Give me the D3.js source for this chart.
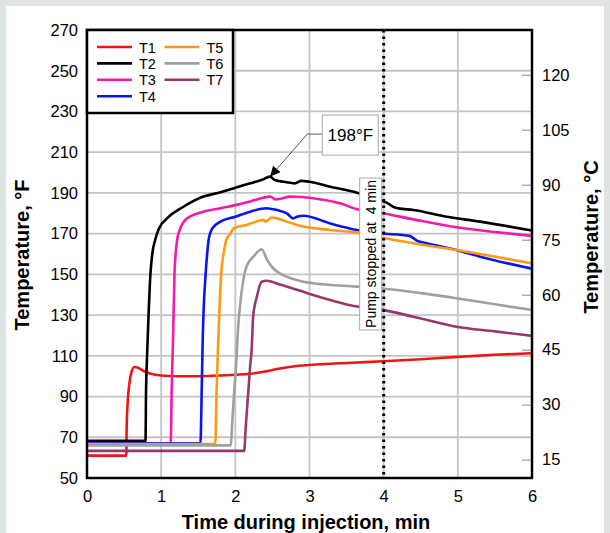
<!DOCTYPE html>
<html><head><meta charset="utf-8">
<script src="https://cdn.jsdelivr.net/npm/d3@7"></script>
<style>
body{margin:0;background:#dde4e2;}
svg{display:block;font-family:"Liberation Sans",Arial,sans-serif;}
</style></head><body>
<svg id="c" width="610" height="533"></svg>
<script>
const xTicks=[0,1,2,3,4,5,6];
const yTicks=[50,70,90,110,130,150,170,190,210,230,250,270];
const cTicks=[15,30,45,60,75,90,105,120];
const seriesNames=["T1","T2","T3","T4","T5","T6","T7"];
const seriesColors=["#f01414","#000000","#f51aa8","#0a14f0","#ff9a10","#a0a0a0","#98386a"];
const T1=[[0,61],[0.53,61],[0.535,75],[0.55,88],[0.57,96],[0.6,102],[0.64,104.5],[0.68,104.3],[0.75,102.8],[0.85,101.3],[1.0,100.3],[1.2,100],[1.5,100],[1.8,100.3],[2.0,100.7],[2.2,101.2],[2.4,102.3],[2.6,103.8],[2.8,104.9],[3.0,105.5],[3.5,106.5],[4.0,107.3],[4.5,108.3],[5.0,109.5],[5.5,110.5],[6.0,111.3]];
const T2=[[0,68.3],[0.79,68.3],[0.795,90],[0.81,110],[0.83,130],[0.855,150],[0.88,160],[0.92,167],[0.97,172.5],[1.08,177.5],[1.3,183.2],[1.57,188.2],[1.8,190.3],[2.0,192.5],[2.2,194.7],[2.35,196.3],[2.47,198],[2.53,196.3],[2.65,195.5],[2.74,195],[2.8,194.7],[2.89,195.9],[3.0,195.5],[3.28,193],[3.64,190.1],[3.95,186.5],[4.04,185.2],[4.15,182.8],[4.2,182.4],[4.4,181.6],[4.85,178.3],[5.3,175.9],[6.0,171.5]];
const T3=[[0,67],[1.13,67],[1.14,90],[1.16,117.8],[1.18,150.5],[1.2,162],[1.22,168],[1.25,171.8],[1.35,177.5],[1.57,180.8],[1.8,182.5],[2.0,184],[2.2,185.8],[2.47,188.2],[2.54,186.8],[2.6,187],[2.74,188.2],[2.9,188],[3.05,187.4],[3.41,184.9],[3.64,182],[3.95,180.3],[4.4,177],[4.98,173.1],[5.5,170.8],[6.0,168.9]];
const T4=[[0,67],[1.53,67],[1.545,90],[1.56,117.8],[1.6,150.5],[1.62,160],[1.64,167],[1.69,172.6],[1.8,175.9],[2.0,178.3],[2.2,180.8],[2.42,182.5],[2.55,181.7],[2.7,179.8],[2.78,177.5],[2.83,178.3],[2.92,178.8],[3.28,175],[3.64,171.8],[3.95,170.2],[4.35,168.9],[4.45,166.5],[4.55,165.5],[4.98,162],[5.3,158.7],[6.0,152.8]];
const T5=[[0,66.7],[1.73,66.7],[1.745,90],[1.77,117.8],[1.81,150.5],[1.85,162],[1.88,167],[1.93,169.9],[1.98,172.6],[2.15,174.3],[2.38,176.7],[2.41,175.9],[2.49,177.9],[2.65,176.5],[2.83,174.3],[3.28,171.8],[3.64,170.5],[3.95,168.2],[4.4,165.3],[4.98,162],[5.3,160],[6.0,155.4]];
const T6=[[0,66],[1.94,66],[1.955,75],[1.98,90],[2.01,105],[2.04,125],[2.08,140],[2.15,153.8],[2.25,159],[2.355,162.3],[2.43,157],[2.51,153],[2.6,150.5],[2.69,148.9],[2.85,147],[3.05,145.6],[3.64,144],[3.95,143.2],[4.5,140.8],[4.98,138.3],[5.5,135.3],[6.0,132.5]];
const T7=[[0,63.3],[2.12,63.3],[2.14,75],[2.17,90],[2.2,105],[2.22,112.9],[2.24,129.2],[2.29,139],[2.355,146.4],[2.42,146.9],[2.6,145],[2.83,142.4],[3.28,137.4],[3.64,134.2],[3.95,132.8],[4.4,129.2],[4.98,124.3],[5.5,122],[6.0,119.8]];
const seriesData=[T1,T2,T3,T4,T5,T6,T7];
const peakLabel="198°F", peakPoint=[2.47,198];
const pumpTime=4, pumpLabel="Pump stopped at  4 min";

const svg=d3.select("#c");
svg.append("rect").attr("x",6).attr("y",6).attr("width",598).attr("height",527).attr("fill","#fff");
const L=87,R=532,T=30,B=478;
const x=d3.scaleLinear().domain([0,6]).range([L,R]);
const y=d3.scaleLinear().domain([50,270]).range([B,T]);
const FF="Liberation Sans, Arial, sans-serif";

// grid
svg.append("g").selectAll("line").data(xTicks.slice(1,-1)).join("line")
 .attr("x1",d=>x(d)).attr("x2",d=>x(d)).attr("y1",T).attr("y2",B)
 .attr("stroke","#c4c4c4").attr("stroke-width",1.8);
svg.append("g").selectAll("line").data(yTicks.slice(1,-1)).join("line")
 .attr("y1",d=>y(d)).attr("y2",d=>y(d)).attr("x1",L).attr("x2",R)
 .attr("stroke","#c4c4c4").attr("stroke-width",1.8);

// axes
const xAxis=svg.append("g").attr("transform",`translate(0,${B})`)
 .call(d3.axisBottom(x).tickValues(xTicks).tickSize(0).tickPadding(12).tickFormat(d3.format("d")));
xAxis.select(".domain").remove();
xAxis.selectAll("text").attr("font-size",16.5).attr("fill","#000").attr("font-family",FF);
const yAxis=svg.append("g").attr("transform",`translate(${L},0)`)
 .call(d3.axisLeft(y).tickValues(yTicks).tickSize(0).tickPadding(9).tickFormat(d3.format("d")));
yAxis.select(".domain").remove();
yAxis.selectAll("text").attr("font-size",16.5).attr("fill","#000").attr("font-family",FF);
const cScale=d3.scaleLinear().domain([(50-32)*5/9,(270-32)*5/9]).range([B,T]);
const cAxis=svg.append("g").attr("transform",`translate(${R},0)`)
 .call(d3.axisLeft(cScale).tickValues(cTicks).tickSize(10).tickFormat(d3.format("d")));
cAxis.select(".domain").remove();
cAxis.selectAll("line").attr("stroke","#b0b0b0").attr("stroke-width",1.5);
cAxis.selectAll("text").attr("x",10).attr("text-anchor","start").attr("font-size",16.5).attr("fill","#000").attr("font-family",FF);

// clip
svg.append("clipPath").attr("id","pc").append("rect").attr("x",L).attr("y",T).attr("width",R-L).attr("height",B-T);

// series
const line=d3.line().x(d=>x(d[0])).y(d=>y(d[1])).curve(d3.curveMonotoneX);
const g=svg.append("g").attr("clip-path","url(#pc)");
seriesData.forEach((s,i)=>{
 g.append("path").attr("d",line(s)).attr("fill","none").attr("stroke",seriesColors[i]).attr("stroke-width",2.6).attr("stroke-linejoin","round");
});

// pump line
svg.append("line").attr("x1",x(pumpTime)).attr("x2",x(pumpTime)).attr("y1",T).attr("y2",B)
 .attr("stroke","#000").attr("stroke-width",3).attr("stroke-dasharray","2.5,4");

// pump label
const pcx=x(pumpTime)-13, pcy=y(160);
svg.append("rect").attr("x",pcx-11).attr("y",pcy-76).attr("width",22).attr("height",152)
 .attr("fill","#fff").attr("stroke","#a8a8a8").attr("stroke-width",1);
svg.append("text").attr("transform",`translate(${pcx+5},${pcy}) rotate(-90)`).attr("text-anchor","middle")
 .attr("font-size",14).attr("xml:space","preserve").style("white-space","pre").text(pumpLabel);

// frame
svg.append("rect").attr("x",L).attr("y",T).attr("width",R-L).attr("height",B-T).attr("fill","none").attr("stroke","#000").attr("stroke-width",2.5);

// peak annotation
const bx=x(3.55), by=y(218.4);
const defs=svg.append("defs");
defs.append("marker").attr("id","ah").attr("viewBox","0 0 10 10").attr("refX",10).attr("refY",5)
 .attr("markerWidth",14).attr("markerHeight",10).attr("markerUnits","userSpaceOnUse").attr("orient","auto")
 .append("path").attr("d","M0,0 L10,5 L0,10 z").attr("fill","#000");
svg.append("path").attr("d",`M${bx-28},${by-1} L${bx-43},${by-1} L${x(peakPoint[0])},${y(peakPoint[1])}`)
 .attr("fill","none").attr("stroke","#555").attr("stroke-width",1).attr("marker-end","url(#ah)");
svg.append("rect").attr("x",bx-28).attr("y",by-20).attr("width",56).attr("height",40)
 .attr("fill","#fff").attr("stroke","#a8a8a8").attr("stroke-width",1);
svg.append("text").attr("x",bx).attr("y",by+6).attr("text-anchor","middle").attr("font-size",17).text(peakLabel);

// legend
const lg=svg.append("g");
lg.append("rect").attr("x",L).attr("y",T).attr("width",146).attr("height",83).attr("fill","#fff").attr("stroke","#000").attr("stroke-width",2.5);
seriesNames.forEach((n,i)=>{
 const col=i<4?0:1, row=i<4?i:i-4;
 const lx=97+col*67.5, ly=47+row*16.4;
 lg.append("line").attr("x1",lx).attr("x2",lx+35).attr("y1",ly).attr("y2",ly).attr("stroke",seriesColors[i]).attr("stroke-width",2.6);
 lg.append("text").attr("x",lx+42).attr("y",ly+5.5).attr("font-size",14.5).text(n);
});

// axis titles
svg.append("text").attr("x",306).attr("y",529).attr("text-anchor","middle").attr("font-size",20).attr("font-weight","bold").text("Time during injection, min");
svg.append("text").attr("transform",`translate(29,${(T+B)/2+1}) rotate(-90)`).attr("text-anchor","middle").attr("font-size",20).attr("font-weight","bold").text("Temperature, °F");
svg.append("text").attr("transform",`translate(598,${(T+B)/2-17}) rotate(-90)`).attr("text-anchor","middle").attr("font-size",20).attr("font-weight","bold").text("Temperature, °C");
</script></body></html>
